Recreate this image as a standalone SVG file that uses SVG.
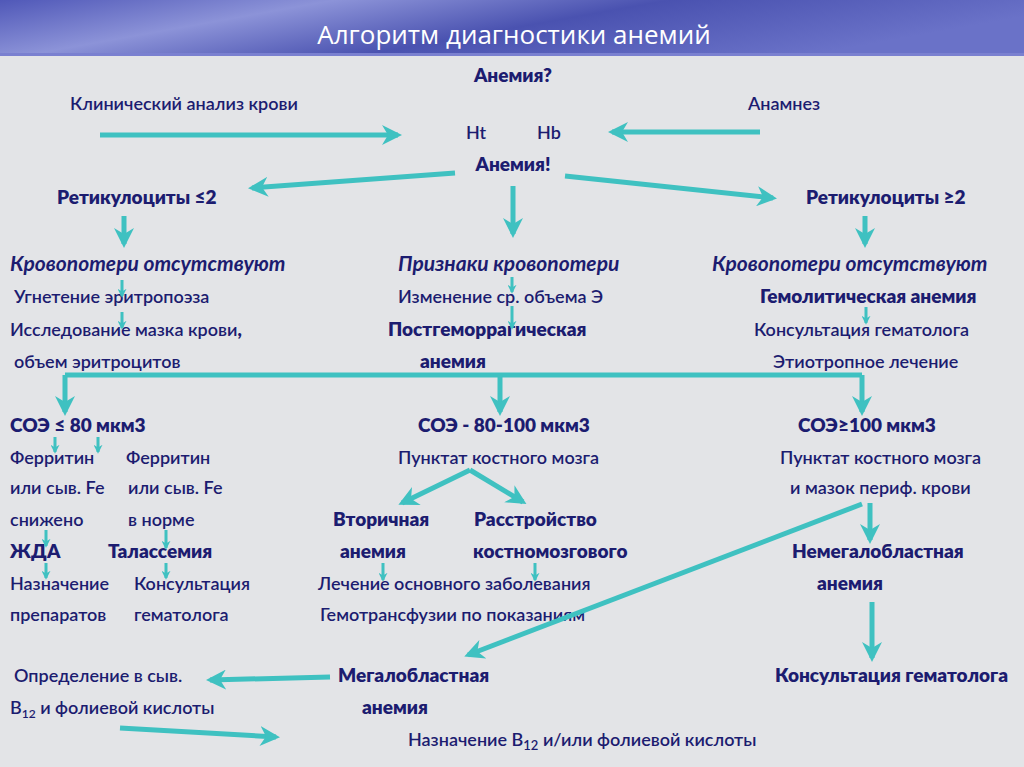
<svg xmlns="http://www.w3.org/2000/svg" width="1024" height="767" viewBox="0 0 1024 767">
<defs>
<linearGradient id="hd" x1="0" y1="0" x2="1" y2="0.3">
<stop offset="0" stop-color="#5058b8"/><stop offset="0.3" stop-color="#8c93d8"/><stop offset="0.6" stop-color="#4a52b0"/><stop offset="1" stop-color="#6a72c8"/>
</linearGradient>
<marker id="ah" viewBox="0 0 10 10" refX="8" refY="5" markerWidth="4" markerHeight="4" orient="auto" markerUnits="strokeWidth">
<path d="M0,0 L10,5 L0,10 L3,5 Z" fill="#3fc1c1"/>
</marker>
<marker id="ahs" viewBox="0 0 10 10" refX="8" refY="5" markerWidth="3" markerHeight="3" orient="auto" markerUnits="strokeWidth">
<path d="M0,0 L10,5 L0,10 L3,5 Z" fill="#3fc1c1"/>
</marker>
</defs>
<style>
text{font-family:Lato,"Noto Sans",sans-serif;fill:#1c1c70;font-size:18px;font-weight:600}
.b{font-weight:800;font-size:19px}
.i{font-style:italic;font-weight:700;font-size:21px}
.t{fill:#fff;font-size:26px;font-weight:400;font-family:"Open Sans",sans-serif}
.c{stroke:#3fc1c1;stroke-width:5;fill:none;marker-end:url(#ah)}
.s{stroke:#3fc1c1;stroke-width:3;fill:none;marker-end:url(#ahs)}
.l{stroke:#3fc1c1;stroke-width:5;fill:none}
</style>
<rect width="1024" height="767" fill="#e3e4e7"/>
<rect width="1024" height="55" fill="url(#hd)"/>
<rect y="53" width="1024" height="3" fill="#7a80d0"/>
<text class="t" x="514" y="44" text-anchor="middle">Алгоритм диагностики анемий</text>
<g id="nodes">
<g id="n1"><text class="b" x="513" y="82" text-anchor="middle">Анемия?</text></g>
<g id="n2"><text x="70" y="110">Клинический анализ крови</text></g>
<g id="n3"><text x="748" y="110">Анамнез</text></g>
<g id="n4"><text x="466" y="139">Ht</text><text x="537" y="139">Hb</text></g>
<g id="n5"><text class="b" x="513" y="171" text-anchor="middle">Анемия!</text></g>
<g id="n6"><text class="b" x="57" y="204">Ретикулоциты ≤2</text></g>
<g id="n7"><text class="b" x="806" y="204">Ретикулоциты ≥2</text></g>
<g id="n8"><text class="i" x="10" y="271">Кровопотери отсутствуют</text>
<text x="14" y="303">Угнетение эритропоэза</text>
<text x="10" y="336">Исследование мазка крови<tspan font-weight="800">,</tspan></text>
<text x="14" y="368">объем эритроцитов</text></g>
<g id="n9"><text class="i" x="398" y="271">Признаки кровопотери</text>
<text x="398" y="303">Изменение ср. объема Э</text>
<text class="b" x="388" y="336">Постгеморрагическая</text>
<text class="b" x="420" y="368">анемия</text></g>
<g id="n10"><text class="i" x="712" y="271">Кровопотери отсутствуют</text>
<text class="b" x="760" y="303">Гемолитическая анемия</text>
<text x="754" y="336">Консультация гематолога</text>
<text x="773" y="368">Этиотропное лечение</text></g>
<g id="n11"><text class="b" x="10" y="432">СОЭ ≤ 80 мкм3</text>
<text x="10" y="464">Ферритин</text><text x="126" y="464">Ферритин</text>
<text x="10" y="494">или сыв. Fe</text><text x="128" y="494">или сыв. Fe</text>
<text x="10" y="526">снижено</text><text x="128" y="526">в норме</text>
<text class="b" x="10" y="558">ЖДА</text><text class="b" x="108" y="558">Талассемия</text>
<text x="10" y="590">Назначение</text><text x="134" y="590">Консультация</text>
<text x="10" y="621">препаратов</text><text x="134" y="621">гематолога</text></g>
<g id="n12"><text class="b" x="418" y="432">СОЭ - 80-100 мкм3</text>
<text x="398" y="464">Пунктат костного мозга</text>
<text class="b" x="333" y="526">Вторичная</text><text class="b" x="474" y="526">Расстройство</text>
<text class="b" x="340" y="558">анемия</text><text class="b" x="473" y="558">костномозгового</text>
<text x="318" y="590">Лечение основного  заболевания</text>
<text x="320" y="621">Гемотрансфузии по показаниям</text></g>
<g id="n13"><text class="b" x="798" y="432">СОЭ≥100 мкм3</text>
<text x="780" y="464">Пунктат костного мозга</text>
<text x="790" y="494">и мазок периф. крови</text>
<text class="b" x="792" y="558">Немегалобластная</text>
<text class="b" x="817" y="590">анемия</text>
<text class="b" x="775" y="682">Консультация гематолога</text></g>
<g id="n14"><text class="b" x="338" y="682">Мегалобластная</text>
<text class="b" x="362" y="714">анемия</text></g>
<g id="n15"><text x="14" y="682">Определение в сыв.</text>
<text x="10" y="714">B<tspan font-size="12" dy="4">12</tspan><tspan dy="-4"> и фолиевой кислоты</tspan></text></g>
<g id="n16"><text x="408" y="746" font-size="20">Назначение B<tspan font-size="13" dy="4">12</tspan><tspan dy="-4"> и/или фолиевой кислоты</tspan></text></g>
</g>
<g id="connectors">
<path class="c" d="M100,135 H398"/>
<path class="c" d="M760,132 H612"/>
<path class="c" d="M455,173 L252,188"/>
<path class="c" d="M565,176 L773,198"/>
<path class="c" d="M513,186 V234"/>
<path class="c" d="M124,216 V244"/>
<path class="c" d="M865,216 V244"/>
<path class="s" d="M122,280 V296"/>
<path class="s" d="M122,312 V328"/>
<path class="s" d="M512,277 V292"/>
<path class="s" d="M512,306 V328"/>
<path class="s" d="M866,307 V323"/>
<path class="l" d="M65,375 H862"/>
<path class="c" d="M65,375 V412"/>
<path class="c" d="M500,375 V412"/>
<path class="c" d="M862,375 V412"/>
<path class="s" d="M55,437 V452"/>
<path class="s" d="M98,437 V452"/>
<path class="s" d="M46,530 V546"/>
<path class="s" d="M46,563 V578"/>
<path class="s" d="M166,530 V548"/>
<path class="s" d="M166,563 V578"/>
<path class="s" d="M383,563 V580"/>
<path class="s" d="M535,563 V580"/>
<path class="c" d="M470,470 L402,503"/>
<path class="c" d="M470,470 L523,502"/>
<path class="c" d="M870,503 V540"/>
<path class="c" d="M862,504 L468,655"/>
<path class="c" d="M872,602 V658"/>
<path class="c" d="M330,677 L210,680"/>
<path class="c" d="M120,728 L276,737"/>
</g>
</svg>
